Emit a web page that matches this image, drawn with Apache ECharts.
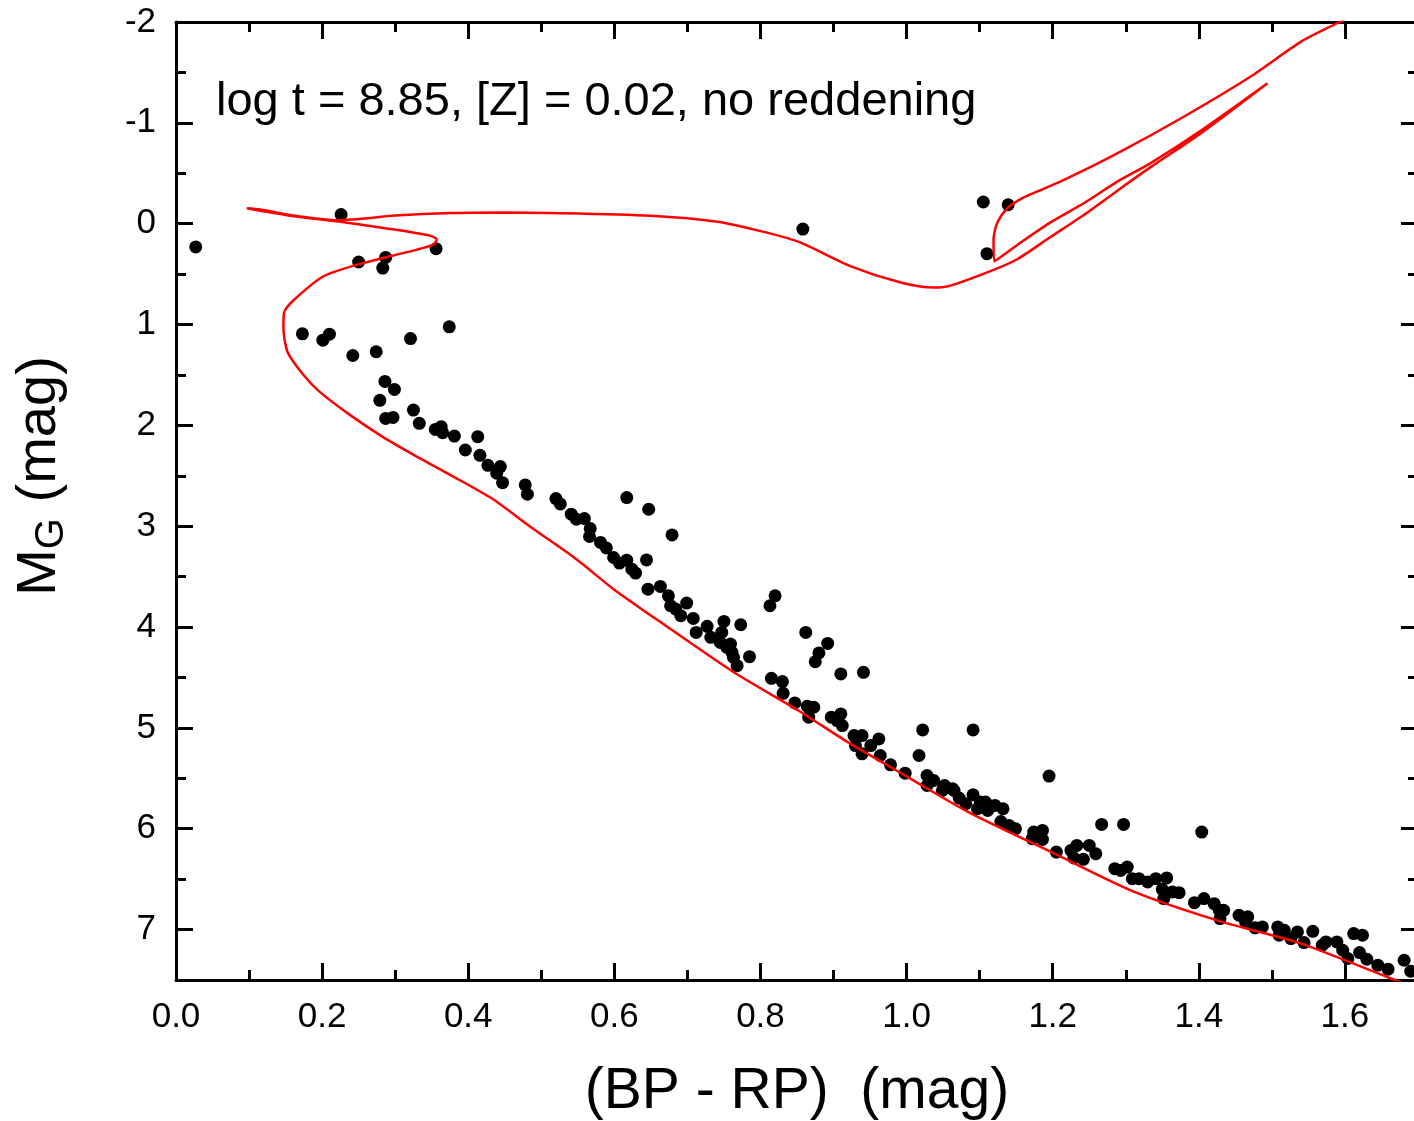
<!DOCTYPE html>
<html>
<head>
<meta charset="utf-8">
<title>CMD</title>
<script src="https://cdn.jsdelivr.net/npm/echarts@6/dist/echarts.min.js"></script>
<style>
  html, body { margin: 0; padding: 0; background: #fff; }
  #chart { width: 1414px; height: 1121px; }
</style>
</head>
<body>
<div id="chart"></div>
<script>
// observed stars: [BP-RP, M_G]
const clusterStars = [
  [0.027, 0.23], [0.226, -0.09], [0.250, 0.38], [0.287, 0.335], [0.283, 0.44], [0.356, 0.248],
  [0.858, 0.053], [1.105, -0.215], [1.139, -0.188], [1.110, 0.297],
  [0.173, 1.092], [0.201, 1.155], [0.210, 1.096], [0.242, 1.307], [0.274, 1.270], [0.321, 1.139],
  [0.374, 1.023], [0.286, 1.564], [0.299, 1.644], [0.279, 1.752], [0.287, 1.931], [0.297, 1.921],
  [0.325, 1.848], [0.333, 1.980], [0.355, 2.040], [0.363, 2.013], [0.365, 2.073], [0.381, 2.106],
  [0.413, 2.112], [0.396, 2.244], [0.416, 2.297], [0.427, 2.396], [0.444, 2.409], [0.439, 2.475],
  [0.447, 2.568], [0.478, 2.591], [0.481, 2.683], [0.520, 2.726], [0.526, 2.779], [0.541, 2.881],
  [0.548, 2.931], [0.559, 2.924], [0.567, 3.023], [0.566, 3.102], [0.581, 3.161], [0.589, 3.215],
  [0.599, 3.310], [0.607, 3.366], [0.617, 3.337], [0.624, 3.426], [0.629, 3.465], [0.617, 2.716],
  [0.647, 2.832], [0.679, 3.086], [0.644, 3.334], [0.646, 3.624], [0.663, 3.597], [0.674, 3.690],
  [0.677, 3.789], [0.684, 3.822], [0.699, 3.762], [0.691, 3.888], [0.708, 3.914], [0.712, 4.053],
  [0.727, 3.993], [0.732, 4.102], [0.750, 3.944], [0.747, 4.053], [0.745, 4.152], [0.754, 4.201],
  [0.759, 4.168], [0.761, 4.251], [0.763, 4.300], [0.768, 4.383], [0.773, 3.977], [0.785, 4.294],
  [0.820, 3.690], [0.813, 3.789], [0.815, 4.508], [0.830, 4.541], [0.831, 4.657], [0.847, 4.752],
  [0.862, 4.053], [0.892, 4.162], [0.880, 4.257], [0.875, 4.343], [0.910, 4.465], [0.941, 4.449],
  [0.864, 4.785], [0.873, 4.795], [0.866, 4.894], [0.897, 4.894], [0.910, 4.861], [0.912, 4.977],
  [0.905, 4.927], [0.928, 5.076], [0.939, 5.076], [0.962, 5.109], [0.930, 5.175], [0.939, 5.257],
  [0.951, 5.175], [0.964, 5.274], [0.978, 5.366], [0.998, 5.449], [1.022, 5.020], [1.017, 5.274],
  [1.028, 5.472], [1.037, 5.521], [1.028, 5.571], [1.051, 5.587], [1.065, 5.621], [1.091, 5.020],
  [1.049, 5.621], [1.052, 5.571], [1.063, 5.604], [1.072, 5.696], [1.081, 5.752], [1.091, 5.663],
  [1.097, 5.802], [1.101, 5.736], [1.111, 5.819], [1.108, 5.736], [1.121, 5.769], [1.132, 5.802],
  [1.129, 5.928], [1.140, 5.967], [1.149, 6.000], [1.195, 5.478], [1.174, 6.033], [1.172, 6.099],
  [1.186, 6.017], [1.186, 6.106], [1.205, 6.231], [1.225, 6.215], [1.233, 6.165], [1.229, 6.290],
  [1.242, 6.303], [1.250, 6.165], [1.259, 6.248], [1.267, 5.957], [1.297, 5.957], [1.285, 6.396],
  [1.302, 6.380], [1.293, 6.413], [1.309, 6.495], [1.318, 6.495], [1.330, 6.528], [1.341, 6.495],
  [1.356, 6.488], [1.350, 6.601], [1.352, 6.693], [1.364, 6.627], [1.373, 6.634], [1.404, 6.033],
  [1.394, 6.733], [1.407, 6.693], [1.421, 6.743], [1.428, 6.809], [1.434, 6.809], [1.429, 6.891],
  [1.455, 6.858], [1.467, 6.874], [1.464, 6.924], [1.477, 6.983], [1.487, 6.974], [1.508, 6.974],
  [1.510, 7.056], [1.517, 7.007], [1.535, 7.023], [1.526, 7.089], [1.544, 7.129], [1.556, 7.017],
  [1.569, 7.155], [1.574, 7.122], [1.589, 7.122], [1.597, 7.205], [1.604, 7.287], [1.612, 7.040],
  [1.624, 7.056], [1.620, 7.228], [1.630, 7.294], [1.645, 7.353], [1.659, 7.393], [1.681, 7.304],
  [1.690, 7.413]
]

// isochrone track, main sequence -> turnoff -> subgiants -> RGB -> clump -> AGB
const isochrone = [
  [1.700, 7.59], [1.663, 7.485], [1.540, 7.139], [1.426, 6.911], [1.311, 6.624], [1.197, 6.228],
  [1.084, 5.832], [1.001, 5.485], [0.919, 5.139], [0.855, 4.842], [0.763, 4.446], [0.673, 4.000],
  [0.599, 3.624], [0.548, 3.327], [0.484, 3.000], [0.434, 2.733], [0.379, 2.505], [0.329, 2.307],
  [0.284, 2.119], [0.237, 1.891], [0.196, 1.663], [0.174, 1.495], [0.153, 1.277], [0.147, 1.030],
  [0.148, 0.881], [0.162, 0.752], [0.202, 0.521], [0.248, 0.406], [0.293, 0.323], [0.330, 0.257],
  [0.352, 0.208], [0.357, 0.158], [0.348, 0.119], [0.284, 0.043], [0.220, -0.023], [0.156, -0.079],
  [0.097, -0.152], [0.115, -0.140], [0.170, -0.072], [0.222, -0.035], [0.300, -0.080], [0.375, -0.105],
  [0.450, -0.110], [0.512, -0.106], [0.649, -0.079], [0.741, -0.020], [0.809, 0.089], [0.855, 0.188],
  [0.923, 0.420], [0.992, 0.584], [1.037, 0.634], [1.060, 0.614], [1.120, 0.455], [1.152, 0.350],
  [1.197, 0.132], [1.243, -0.089], [1.289, -0.330], [1.334, -0.561], [1.403, -0.898], [1.494, -1.393],
  [1.403, -0.924], [1.334, -0.601], [1.289, -0.419], [1.243, -0.205], [1.197, -0.013], [1.152, 0.208],
  [1.120, 0.373], [1.119, 0.158], [1.124, -0.007], [1.138, -0.155], [1.156, -0.244], [1.174, -0.304],
  [1.211, -0.419], [1.289, -0.700], [1.380, -1.063], [1.471, -1.459], [1.540, -1.805], [1.590, -1.990],
  [1.620, -2.100]
]

const font = 'Liberation Sans, Arial, sans-serif'
const black = '#000'

const chart = echarts.init(document.getElementById('chart'))

// one axis per side for major ticks, plus a twin for the minor ones
function xAxisOf(position, interval, tickLen, withLabel) {
  return {
    type: 'value',
    position: position,
    min: 0,
    max: 1.7,
    interval: interval,
    axisLine: { show: tickLen > 12, onZero: false, lineStyle: { color: black, width: 3 } },
    axisTick: { show: true, inside: true, length: tickLen, lineStyle: { color: black, width: 3 } },
    axisLabel: {
      show: withLabel,
      color: black,
      fontSize: 35,
      fontFamily: font,
      margin: 20,
      showMaxLabel: false,
      formatter: (v) => v.toFixed(1)
    },
    splitLine: { show: false }
  }
}

function yAxisOf(position, interval, tickLen, withLabel) {
  return {
    type: 'value',
    position: position,
    inverse: true,
    min: -2,
    max: 7.5,
    interval: interval,
    axisLine: { show: tickLen > 12, onZero: false, lineStyle: { color: black, width: 3 } },
    axisTick: { show: true, inside: true, length: tickLen, lineStyle: { color: black, width: 3 } },
    axisLabel: {
      show: withLabel,
      color: black,
      fontSize: 35,
      fontFamily: font,
      margin: 20,
      showMaxLabel: false
    },
    splitLine: { show: false }
  }
}

const xMain = xAxisOf('bottom', 0.2, 17, true)
xMain.name = '(BP - RP)  (mag)'
xMain.nameLocation = 'middle'
xMain.nameGap = 84
xMain.nameTextStyle = { color: black, fontSize: 57, fontFamily: font }

const yMain = yAxisOf('left', 1, 17, true)
yMain.name = '{a|M}{b|G}{a| (mag)}'
yMain.nameLocation = 'middle'
yMain.nameRotate = 90
yMain.nameGap = 104
yMain.nameTextStyle = {
  padding: [0, 0, 0, 50],
  rich: {
    a: { color: black, fontSize: 56, fontFamily: font, lineHeight: 64 },
    b: { color: black, fontSize: 40, fontFamily: font, lineHeight: 17, verticalAlign: 'bottom' }
  }
}

const options = {
  animation: false,
  backgroundColor: '#fff',
  grid: { left: 176, top: 22, right: -4, bottom: 141, outerBoundsMode: 'none', containLabel: false },
  xAxis: [
    xMain,
    xAxisOf('top', 0.2, 17, false),
    xAxisOf('bottom', 0.1, 10, false),
    xAxisOf('top', 0.1, 10, false)
  ],
  yAxis: [
    yMain,
    yAxisOf('right', 1, 17, false),
    yAxisOf('left', 0.5, 10, false),
    yAxisOf('right', 0.5, 10, false)
  ],
  graphic: [
    {
      type: 'text',
      left: 216,
      top: 79,
      style: {
        text: 'log t = 8.85, [Z] = 0.02, no reddening',
        fill: black,
        fontSize: 47,
        fontFamily: font
      }
    }
  ],
  series: [
    {
      name: 'isochrone',
      type: 'line',
      xAxisIndex: 0,
      yAxisIndex: 0,
      data: isochrone,
      showSymbol: false,
      symbol: 'none',
      smooth: 0.25,
      clip: true,
      lineStyle: { color: '#ff0000', width: 2.5 }
    },
    {
      name: 'stars',
      type: 'scatter',
      xAxisIndex: 0,
      yAxisIndex: 0,
      data: clusterStars,
      symbol: 'circle',
      symbolSize: 13,
      itemStyle: { color: black, opacity: 1 }
    }
  ]
}

chart.setOption(options)
</script>
</body>
</html>
